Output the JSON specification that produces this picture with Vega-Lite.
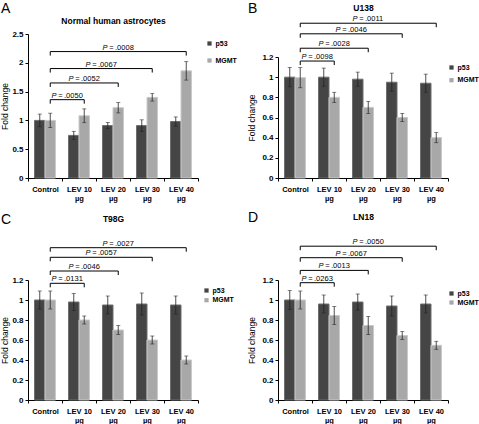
{
  "$schema": "https://vega.github.io/schema/vega-lite/v6.json",
  "padding": {"left": 0, "top": 2, "right": 0, "bottom": 0},
  "datasets": {
    "bars": [
      {"panel": "A", "group": "Control", "series": "p53", "value": 1.0, "lo": 0.89, "hi": 1.11},
      {"panel": "A", "group": "Control", "series": "MGMT", "value": 1.0, "lo": 0.875, "hi": 1.125},
      {"panel": "A", "group": "LEV 10 µg", "series": "p53", "value": 0.74, "lo": 0.67, "hi": 0.81},
      {"panel": "A", "group": "LEV 10 µg", "series": "MGMT", "value": 1.08, "lo": 0.96, "hi": 1.2},
      {"panel": "A", "group": "LEV 20 µg", "series": "p53", "value": 0.91, "lo": 0.855, "hi": 0.965},
      {"panel": "A", "group": "LEV 20 µg", "series": "MGMT", "value": 1.22, "lo": 1.13, "hi": 1.31},
      {"panel": "A", "group": "LEV 30 µg", "series": "p53", "value": 0.91, "lo": 0.81, "hi": 1.01},
      {"panel": "A", "group": "LEV 30 µg", "series": "MGMT", "value": 1.4, "lo": 1.335, "hi": 1.465},
      {"panel": "A", "group": "LEV 40 µg", "series": "p53", "value": 0.98, "lo": 0.9, "hi": 1.06},
      {"panel": "A", "group": "LEV 40 µg", "series": "MGMT", "value": 1.86, "lo": 1.7, "hi": 2.02},
      {"panel": "B", "group": "Control", "series": "p53", "value": 1.0, "lo": 0.905, "hi": 1.095},
      {"panel": "B", "group": "Control", "series": "MGMT", "value": 0.995, "lo": 0.895, "hi": 1.095},
      {"panel": "B", "group": "LEV 10 µg", "series": "p53", "value": 1.0, "lo": 0.91, "hi": 1.09},
      {"panel": "B", "group": "LEV 10 µg", "series": "MGMT", "value": 0.8, "lo": 0.75, "hi": 0.85},
      {"panel": "B", "group": "LEV 20 µg", "series": "p53", "value": 0.98, "lo": 0.91, "hi": 1.05},
      {"panel": "B", "group": "LEV 20 µg", "series": "MGMT", "value": 0.7, "lo": 0.64, "hi": 0.76},
      {"panel": "B", "group": "LEV 30 µg", "series": "p53", "value": 0.95, "lo": 0.86, "hi": 1.04},
      {"panel": "B", "group": "LEV 30 µg", "series": "MGMT", "value": 0.6, "lo": 0.56, "hi": 0.64},
      {"panel": "B", "group": "LEV 40 µg", "series": "p53", "value": 0.94, "lo": 0.85, "hi": 1.03},
      {"panel": "B", "group": "LEV 40 µg", "series": "MGMT", "value": 0.4, "lo": 0.35, "hi": 0.45},
      {"panel": "C", "group": "Control", "series": "p53", "value": 1.0, "lo": 0.91, "hi": 1.09},
      {"panel": "C", "group": "Control", "series": "MGMT", "value": 1.0, "lo": 0.91, "hi": 1.09},
      {"panel": "C", "group": "LEV 10 µg", "series": "p53", "value": 0.98, "lo": 0.895, "hi": 1.065},
      {"panel": "C", "group": "LEV 10 µg", "series": "MGMT", "value": 0.8, "lo": 0.76, "hi": 0.84},
      {"panel": "C", "group": "LEV 20 µg", "series": "p53", "value": 0.95, "lo": 0.86, "hi": 1.04},
      {"panel": "C", "group": "LEV 20 µg", "series": "MGMT", "value": 0.7, "lo": 0.655, "hi": 0.745},
      {"panel": "C", "group": "LEV 30 µg", "series": "p53", "value": 0.96, "lo": 0.85, "hi": 1.07},
      {"panel": "C", "group": "LEV 30 µg", "series": "MGMT", "value": 0.6, "lo": 0.56, "hi": 0.64},
      {"panel": "C", "group": "LEV 40 µg", "series": "p53", "value": 0.95, "lo": 0.86, "hi": 1.04},
      {"panel": "C", "group": "LEV 40 µg", "series": "MGMT", "value": 0.4, "lo": 0.36, "hi": 0.44},
      {"panel": "D", "group": "Control", "series": "p53", "value": 1.0, "lo": 0.905, "hi": 1.095},
      {"panel": "D", "group": "Control", "series": "MGMT", "value": 1.0, "lo": 0.91, "hi": 1.09},
      {"panel": "D", "group": "LEV 10 µg", "series": "p53", "value": 0.96, "lo": 0.87, "hi": 1.05},
      {"panel": "D", "group": "LEV 10 µg", "series": "MGMT", "value": 0.845, "lo": 0.755, "hi": 0.935},
      {"panel": "D", "group": "LEV 20 µg", "series": "p53", "value": 0.98, "lo": 0.9, "hi": 1.06},
      {"panel": "D", "group": "LEV 20 µg", "series": "MGMT", "value": 0.745, "lo": 0.655, "hi": 0.835},
      {"panel": "D", "group": "LEV 30 µg", "series": "p53", "value": 0.94, "lo": 0.84, "hi": 1.04},
      {"panel": "D", "group": "LEV 30 µg", "series": "MGMT", "value": 0.645, "lo": 0.605, "hi": 0.685},
      {"panel": "D", "group": "LEV 40 µg", "series": "p53", "value": 0.96, "lo": 0.87, "hi": 1.05},
      {"panel": "D", "group": "LEV 40 µg", "series": "MGMT", "value": 0.547, "lo": 0.507, "hi": 0.587}
    ],
    "brackets": [
      {"panel": "A", "p": ".0050", "pos": 0, "level": 1.36},
      {"panel": "A", "p": ".0050", "pos": 1, "level": 1.36},
      {"panel": "A", "p": ".0052", "pos": 0, "level": 1.65},
      {"panel": "A", "p": ".0052", "pos": 2, "level": 1.65},
      {"panel": "A", "p": ".0067", "pos": 0, "level": 1.9},
      {"panel": "A", "p": ".0067", "pos": 3, "level": 1.9},
      {"panel": "A", "p": ".0008", "pos": 0, "level": 2.195},
      {"panel": "A", "p": ".0008", "pos": 4, "level": 2.195},
      {"panel": "B", "p": ".0098", "pos": 0, "level": 1.16},
      {"panel": "B", "p": ".0098", "pos": 1, "level": 1.16},
      {"panel": "B", "p": ".0028", "pos": 0, "level": 1.287},
      {"panel": "B", "p": ".0028", "pos": 2, "level": 1.287},
      {"panel": "B", "p": ".0046", "pos": 0, "level": 1.43},
      {"panel": "B", "p": ".0046", "pos": 3, "level": 1.43},
      {"panel": "B", "p": ".0011", "pos": 0, "level": 1.535},
      {"panel": "B", "p": ".0011", "pos": 4, "level": 1.535},
      {"panel": "C", "p": ".0131", "pos": 0, "level": 1.167},
      {"panel": "C", "p": ".0131", "pos": 1, "level": 1.167},
      {"panel": "C", "p": ".0046", "pos": 0, "level": 1.29},
      {"panel": "C", "p": ".0046", "pos": 2, "level": 1.29},
      {"panel": "C", "p": ".0057", "pos": 0, "level": 1.427},
      {"panel": "C", "p": ".0057", "pos": 3, "level": 1.427},
      {"panel": "C", "p": ".0027", "pos": 0, "level": 1.523},
      {"panel": "C", "p": ".0027", "pos": 4, "level": 1.523},
      {"panel": "D", "p": ".0263", "pos": 0, "level": 1.173},
      {"panel": "D", "p": ".0263", "pos": 1, "level": 1.173},
      {"panel": "D", "p": ".0013", "pos": 0, "level": 1.296},
      {"panel": "D", "p": ".0013", "pos": 2, "level": 1.296},
      {"panel": "D", "p": ".0067", "pos": 0, "level": 1.423},
      {"panel": "D", "p": ".0067", "pos": 3, "level": 1.423},
      {"panel": "D", "p": ".0050", "pos": 0, "level": 1.538},
      {"panel": "D", "p": ".0050", "pos": 4, "level": 1.538}
    ]
  },
  "config": {
    "font": "Liberation Sans",
    "view": {"stroke": null},
    "axis": {"grid": false, "domainColor": "#000", "tickColor": "#000", "labelColor": "#000", "titleColor": "#000", "labelFontSize": 7.5, "labelFontWeight": "bold", "titleFontSize": 8.5, "titleFontWeight": "normal", "tickSize": 3, "domainWidth": 1, "tickWidth": 1},
    "axisY": {"labelPadding": 2, "labelFontSize": 8},
    "legend": {"symbolType": "square", "symbolSize": 18, "symbolStrokeWidth": 0, "labelFontSize": 7, "labelFontWeight": "bold", "labelColor": "#000", "labelOffset": 2.5, "padding": 0},
    "title": {"anchor": "start", "fontSize": 14, "fontWeight": "normal", "color": "#000", "frame": "bounds"},
    "rule": {"color": "#000", "strokeWidth": 1},
    "tick": {"color": "#222", "thickness": 0.8},
    "text": {"fontSize": 7.5, "color": "#000", "baseline": "alphabetic", "dy": -2}
  },
  "bounds": "flush",
  "columns": 2,
  "spacing": {"row": 58, "column": 80},
  "resolve": {"scale": {"x": "independent", "y": "independent", "color": "independent", "stroke": "independent", "xOffset": "independent"}, "axis": {"x": "independent", "y": "independent"}, "legend": {"color": "independent"}},
  "concat": [
    {
      "title": {"text": "A", "offset": 0},
      "width": 170, "height": 161,
      "resolve": {"scale": {"x": "independent"}, "axis": {"x": "independent"}},
      "layer": [
        {
          "data": {"name": "bars"},
          "transform": [{"filter": "datum.panel == 'A'"}],
          "encoding": {
            "x": {"field": "group", "type": "nominal", "sort": ["Control", "LEV 10 µg", "LEV 20 µg", "LEV 30 µg", "LEV 40 µg"], "scale": {"paddingInner": 0, "paddingOuter": 0}, "axis": {"title": null, "labelAngle": 0, "tickBand": "extent", "labelPadding": 4, "labelLineHeight": 9.5, "labelExpr": "split(replace(datum.label, ' µg', '|µg'), '|')"}},
            "xOffset": {"field": "series", "sort": ["p53", "MGMT"], "scale": {"paddingInner": 0, "paddingOuter": 0.62}}
          },
          "layer": [
            {"mark": {"type": "bar", "strokeWidth": 1}, "encoding": {
              "y": {"field": "value", "type": "quantitative", "title": "Fold change", "scale": {"domain": [0, 2.5], "range": [161, 17], "nice": false}, "axis": {"values": [0, 0.5, 1, 1.5, 2, 2.5], "format": "~g", "titlePadding": 2}},
              "color": {"field": "series", "type": "nominal", "scale": {"domain": ["p53", "MGMT"], "range": ["#454545", "#a8a8a8"]}, "legend": {"orient": "none", "legendX": 178, "legendY": 23, "title": null, "rowPadding": 9}},
              "stroke": {"field": "series", "type": "nominal", "scale": {"domain": ["p53", "MGMT"], "range": ["#6e6e6e", "#cacaca"]}, "legend": null}}},
            {"mark": {"type": "rule", "color": "#222", "strokeWidth": 0.8}, "encoding": {
              "y": {"field": "lo", "type": "quantitative", "title": "Fold change", "scale": {"domain": [0, 2.5], "range": [161, 17], "nice": false}, "axis": {"values": [0, 0.5, 1, 1.5, 2, 2.5], "format": "~g", "titlePadding": 2}},
              "y2": {"field": "hi"}}},
            {"mark": {"type": "tick", "orient": "horizontal", "size": 4}, "encoding": {
              "y": {"field": "lo", "type": "quantitative", "title": "Fold change", "scale": {"domain": [0, 2.5], "range": [161, 17], "nice": false}, "axis": {"values": [0, 0.5, 1, 1.5, 2, 2.5], "format": "~g", "titlePadding": 2}}}},
            {"mark": {"type": "tick", "orient": "horizontal", "size": 4}, "encoding": {
              "y": {"field": "hi", "type": "quantitative", "title": "Fold change", "scale": {"domain": [0, 2.5], "range": [161, 17], "nice": false}, "axis": {"values": [0, 0.5, 1, 1.5, 2, 2.5], "format": "~g", "titlePadding": 2}}}}
          ]
        },
        {
          "data": {"name": "brackets"},
          "transform": [{"filter": "datum.panel == 'A'"}],
          "encoding": {
            "x": {"field": "pos", "type": "quantitative", "scale": {"domain": [-0.654, 4.346], "nice": false, "zero": false}, "axis": {"orient": "top", "title": "Normal human astrocytes", "titleFontWeight": "bold", "labels": false, "ticks": false, "domain": false, "offset": -9, "titlePadding": 1}},
            "y": {"field": "level", "type": "quantitative", "title": "Fold change", "scale": {"domain": [0, 2.5], "range": [161, 17], "nice": false}, "axis": {"values": [0, 0.5, 1, 1.5, 2, 2.5], "format": "~g", "titlePadding": 2}}
          },
          "layer": [
            {"mark": {"type": "line", "color": "#000", "strokeWidth": 1}, "encoding": {"detail": {"field": "p"}}},
            {"mark": {"type": "rule", "y2Offset": 4}, "encoding": {"y2": {"field": "level"}}},
            {"mark": {"type": "text", "fontStyle": "italic", "align": "right", "dx": -10.6}, "encoding": {"x": {"aggregate": "mean", "field": "pos"}, "detail": {"field": "p"}, "text": {"value": "P"}}},
            {"mark": {"type": "text", "align": "center", "dx": -6.9}, "encoding": {"x": {"aggregate": "mean", "field": "pos"}, "detail": {"field": "p"}, "text": {"value": "="}}},
            {"mark": {"type": "text", "align": "left", "dx": -3.2}, "encoding": {"x": {"aggregate": "mean", "field": "pos"}, "text": {"field": "p"}}}
          ]
        }
      ]
    },
    {
      "title": {"text": "B", "offset": -13},
      "width": 170, "height": 161,
      "resolve": {"scale": {"x": "independent"}, "axis": {"x": "independent"}},
      "layer": [
        {
          "data": {"name": "bars"},
          "transform": [{"filter": "datum.panel == 'B'"}],
          "encoding": {
            "x": {"field": "group", "type": "nominal", "sort": ["Control", "LEV 10 µg", "LEV 20 µg", "LEV 30 µg", "LEV 40 µg"], "scale": {"paddingInner": 0, "paddingOuter": 0}, "axis": {"title": null, "labelAngle": 0, "tickBand": "extent", "labelPadding": 4, "labelLineHeight": 9.5, "labelExpr": "split(replace(datum.label, ' µg', '|µg'), '|')"}},
            "xOffset": {"field": "series", "sort": ["p53", "MGMT"], "scale": {"paddingInner": 0, "paddingOuter": 0.62}}
          },
          "layer": [
            {"mark": {"type": "bar", "strokeWidth": 1}, "encoding": {
              "y": {"field": "value", "type": "quantitative", "title": "Fold change", "scale": {"domain": [0, 1.2], "range": [161, 40], "nice": false}, "axis": {"values": [0, 0.2, 0.4, 0.6, 0.8, 1, 1.2], "format": "~g", "titlePadding": 5}},
              "color": {"field": "series", "type": "nominal", "scale": {"domain": ["p53", "MGMT"], "range": ["#454545", "#a8a8a8"]}, "legend": {"orient": "none", "legendX": 170, "legendY": 47, "title": null, "rowPadding": 4.7}},
              "stroke": {"field": "series", "type": "nominal", "scale": {"domain": ["p53", "MGMT"], "range": ["#6e6e6e", "#cacaca"]}, "legend": null}}},
            {"mark": {"type": "rule", "color": "#222", "strokeWidth": 0.8}, "encoding": {
              "y": {"field": "lo", "type": "quantitative", "title": "Fold change", "scale": {"domain": [0, 1.2], "range": [161, 40], "nice": false}, "axis": {"values": [0, 0.2, 0.4, 0.6, 0.8, 1, 1.2], "format": "~g", "titlePadding": 5}},
              "y2": {"field": "hi"}}},
            {"mark": {"type": "tick", "orient": "horizontal", "size": 4}, "encoding": {
              "y": {"field": "lo", "type": "quantitative", "title": "Fold change", "scale": {"domain": [0, 1.2], "range": [161, 40], "nice": false}, "axis": {"values": [0, 0.2, 0.4, 0.6, 0.8, 1, 1.2], "format": "~g", "titlePadding": 5}}}},
            {"mark": {"type": "tick", "orient": "horizontal", "size": 4}, "encoding": {
              "y": {"field": "hi", "type": "quantitative", "title": "Fold change", "scale": {"domain": [0, 1.2], "range": [161, 40], "nice": false}, "axis": {"values": [0, 0.2, 0.4, 0.6, 0.8, 1, 1.2], "format": "~g", "titlePadding": 5}}}}
          ]
        },
        {
          "data": {"name": "brackets"},
          "transform": [{"filter": "datum.panel == 'B'"}],
          "encoding": {
            "x": {"field": "pos", "type": "quantitative", "scale": {"domain": [-0.654, 4.346], "nice": false, "zero": false}, "axis": {"orient": "top", "title": "U138", "titleFontWeight": "bold", "labels": false, "ticks": false, "domain": false, "titlePadding": 5}},
            "y": {"field": "level", "type": "quantitative", "title": "Fold change", "scale": {"domain": [0, 1.2], "range": [161, 40], "nice": false}, "axis": {"values": [0, 0.2, 0.4, 0.6, 0.8, 1, 1.2], "format": "~g", "titlePadding": 5}}
          },
          "layer": [
            {"mark": {"type": "line", "color": "#000", "strokeWidth": 1}, "encoding": {"detail": {"field": "p"}}},
            {"mark": {"type": "rule", "y2Offset": 4}, "encoding": {"y2": {"field": "level"}}},
            {"mark": {"type": "text", "fontStyle": "italic", "align": "right", "dx": -10.6}, "encoding": {"x": {"aggregate": "mean", "field": "pos"}, "detail": {"field": "p"}, "text": {"value": "P"}}},
            {"mark": {"type": "text", "align": "center", "dx": -6.9}, "encoding": {"x": {"aggregate": "mean", "field": "pos"}, "detail": {"field": "p"}, "text": {"value": "="}}},
            {"mark": {"type": "text", "align": "left", "dx": -3.2}, "encoding": {"x": {"aggregate": "mean", "field": "pos"}, "text": {"field": "p"}}}
          ]
        }
      ]
    },
    {
      "title": {"text": "C", "offset": -13},
      "width": 170, "height": 164,
      "resolve": {"scale": {"x": "independent"}, "axis": {"x": "independent"}},
      "layer": [
        {
          "data": {"name": "bars"},
          "transform": [{"filter": "datum.panel == 'C'"}],
          "encoding": {
            "x": {"field": "group", "type": "nominal", "sort": ["Control", "LEV 10 µg", "LEV 20 µg", "LEV 30 µg", "LEV 40 µg"], "scale": {"paddingInner": 0, "paddingOuter": 0}, "axis": {"title": null, "labelAngle": 0, "tickBand": "extent", "labelPadding": 4, "labelLineHeight": 9.5, "labelExpr": "split(replace(datum.label, ' µg', '|µg'), '|')"}},
            "xOffset": {"field": "series", "sort": ["p53", "MGMT"], "scale": {"paddingInner": 0, "paddingOuter": 0.62}}
          },
          "layer": [
            {"mark": {"type": "bar", "strokeWidth": 1}, "encoding": {
              "y": {"field": "value", "type": "quantitative", "title": "Fold change", "scale": {"domain": [0, 1.2], "range": [164, 44], "nice": false}, "axis": {"values": [0, 0.2, 0.4, 0.6, 0.8, 1, 1.2], "format": "~g", "titlePadding": 2}},
              "color": {"field": "series", "type": "nominal", "scale": {"domain": ["p53", "MGMT"], "range": ["#454545", "#a8a8a8"]}, "legend": {"orient": "none", "legendX": 175, "legendY": 51, "title": null, "rowPadding": 1.7}},
              "stroke": {"field": "series", "type": "nominal", "scale": {"domain": ["p53", "MGMT"], "range": ["#6e6e6e", "#cacaca"]}, "legend": null}}},
            {"mark": {"type": "rule", "color": "#222", "strokeWidth": 0.8}, "encoding": {
              "y": {"field": "lo", "type": "quantitative", "title": "Fold change", "scale": {"domain": [0, 1.2], "range": [164, 44], "nice": false}, "axis": {"values": [0, 0.2, 0.4, 0.6, 0.8, 1, 1.2], "format": "~g", "titlePadding": 2}},
              "y2": {"field": "hi"}}},
            {"mark": {"type": "tick", "orient": "horizontal", "size": 4}, "encoding": {
              "y": {"field": "lo", "type": "quantitative", "title": "Fold change", "scale": {"domain": [0, 1.2], "range": [164, 44], "nice": false}, "axis": {"values": [0, 0.2, 0.4, 0.6, 0.8, 1, 1.2], "format": "~g", "titlePadding": 2}}}},
            {"mark": {"type": "tick", "orient": "horizontal", "size": 4}, "encoding": {
              "y": {"field": "hi", "type": "quantitative", "title": "Fold change", "scale": {"domain": [0, 1.2], "range": [164, 44], "nice": false}, "axis": {"values": [0, 0.2, 0.4, 0.6, 0.8, 1, 1.2], "format": "~g", "titlePadding": 2}}}}
          ]
        },
        {
          "data": {"name": "brackets"},
          "transform": [{"filter": "datum.panel == 'C'"}],
          "encoding": {
            "x": {"field": "pos", "type": "quantitative", "scale": {"domain": [-0.654, 4.346], "nice": false, "zero": false}, "axis": {"orient": "top", "title": "T98G", "titleFontWeight": "bold", "labels": false, "ticks": false, "domain": false, "titlePadding": 13}},
            "y": {"field": "level", "type": "quantitative", "title": "Fold change", "scale": {"domain": [0, 1.2], "range": [164, 44], "nice": false}, "axis": {"values": [0, 0.2, 0.4, 0.6, 0.8, 1, 1.2], "format": "~g", "titlePadding": 2}}
          },
          "layer": [
            {"mark": {"type": "line", "color": "#000", "strokeWidth": 1}, "encoding": {"detail": {"field": "p"}}},
            {"mark": {"type": "rule", "y2Offset": 4}, "encoding": {"y2": {"field": "level"}}},
            {"mark": {"type": "text", "fontStyle": "italic", "align": "right", "dx": -10.6}, "encoding": {"x": {"aggregate": "mean", "field": "pos"}, "detail": {"field": "p"}, "text": {"value": "P"}}},
            {"mark": {"type": "text", "align": "center", "dx": -6.9}, "encoding": {"x": {"aggregate": "mean", "field": "pos"}, "detail": {"field": "p"}, "text": {"value": "="}}},
            {"mark": {"type": "text", "align": "left", "dx": -3.2}, "encoding": {"x": {"aggregate": "mean", "field": "pos"}, "text": {"field": "p"}}}
          ]
        }
      ]
    },
    {
      "title": {"text": "D", "offset": -13},
      "width": 170, "height": 164,
      "resolve": {"scale": {"x": "independent"}, "axis": {"x": "independent"}},
      "layer": [
        {
          "data": {"name": "bars"},
          "transform": [{"filter": "datum.panel == 'D'"}],
          "encoding": {
            "x": {"field": "group", "type": "nominal", "sort": ["Control", "LEV 10 µg", "LEV 20 µg", "LEV 30 µg", "LEV 40 µg"], "scale": {"paddingInner": 0, "paddingOuter": 0}, "axis": {"title": null, "labelAngle": 0, "tickBand": "extent", "labelPadding": 4, "labelLineHeight": 9.5, "labelExpr": "split(replace(datum.label, ' µg', '|µg'), '|')"}},
            "xOffset": {"field": "series", "sort": ["p53", "MGMT"], "scale": {"paddingInner": 0, "paddingOuter": 0.62}}
          },
          "layer": [
            {"mark": {"type": "bar", "strokeWidth": 1}, "encoding": {
              "y": {"field": "value", "type": "quantitative", "title": "Fold change", "scale": {"domain": [0, 1.2], "range": [164, 44], "nice": false}, "axis": {"values": [0, 0.2, 0.4, 0.6, 0.8, 1, 1.2], "format": "~g", "titlePadding": 5}},
              "color": {"field": "series", "type": "nominal", "scale": {"domain": ["p53", "MGMT"], "range": ["#454545", "#a8a8a8"]}, "legend": {"orient": "none", "legendX": 170, "legendY": 54, "title": null, "rowPadding": 1}},
              "stroke": {"field": "series", "type": "nominal", "scale": {"domain": ["p53", "MGMT"], "range": ["#6e6e6e", "#cacaca"]}, "legend": null}}},
            {"mark": {"type": "rule", "color": "#222", "strokeWidth": 0.8}, "encoding": {
              "y": {"field": "lo", "type": "quantitative", "title": "Fold change", "scale": {"domain": [0, 1.2], "range": [164, 44], "nice": false}, "axis": {"values": [0, 0.2, 0.4, 0.6, 0.8, 1, 1.2], "format": "~g", "titlePadding": 5}},
              "y2": {"field": "hi"}}},
            {"mark": {"type": "tick", "orient": "horizontal", "size": 4}, "encoding": {
              "y": {"field": "lo", "type": "quantitative", "title": "Fold change", "scale": {"domain": [0, 1.2], "range": [164, 44], "nice": false}, "axis": {"values": [0, 0.2, 0.4, 0.6, 0.8, 1, 1.2], "format": "~g", "titlePadding": 5}}}},
            {"mark": {"type": "tick", "orient": "horizontal", "size": 4}, "encoding": {
              "y": {"field": "hi", "type": "quantitative", "title": "Fold change", "scale": {"domain": [0, 1.2], "range": [164, 44], "nice": false}, "axis": {"values": [0, 0.2, 0.4, 0.6, 0.8, 1, 1.2], "format": "~g", "titlePadding": 5}}}}
          ]
        },
        {
          "data": {"name": "brackets"},
          "transform": [{"filter": "datum.panel == 'D'"}],
          "encoding": {
            "x": {"field": "pos", "type": "quantitative", "scale": {"domain": [-0.654, 4.346], "nice": false, "zero": false}, "axis": {"orient": "top", "title": "LN18", "titleFontWeight": "bold", "labels": false, "ticks": false, "domain": false, "titlePadding": 15}},
            "y": {"field": "level", "type": "quantitative", "title": "Fold change", "scale": {"domain": [0, 1.2], "range": [164, 44], "nice": false}, "axis": {"values": [0, 0.2, 0.4, 0.6, 0.8, 1, 1.2], "format": "~g", "titlePadding": 5}}
          },
          "layer": [
            {"mark": {"type": "line", "color": "#000", "strokeWidth": 1}, "encoding": {"detail": {"field": "p"}}},
            {"mark": {"type": "rule", "y2Offset": 4}, "encoding": {"y2": {"field": "level"}}},
            {"mark": {"type": "text", "fontStyle": "italic", "align": "right", "dx": -10.6}, "encoding": {"x": {"aggregate": "mean", "field": "pos"}, "detail": {"field": "p"}, "text": {"value": "P"}}},
            {"mark": {"type": "text", "align": "center", "dx": -6.9}, "encoding": {"x": {"aggregate": "mean", "field": "pos"}, "detail": {"field": "p"}, "text": {"value": "="}}},
            {"mark": {"type": "text", "align": "left", "dx": -3.2}, "encoding": {"x": {"aggregate": "mean", "field": "pos"}, "text": {"field": "p"}}}
          ]
        }
      ]
    }
  ]
}
